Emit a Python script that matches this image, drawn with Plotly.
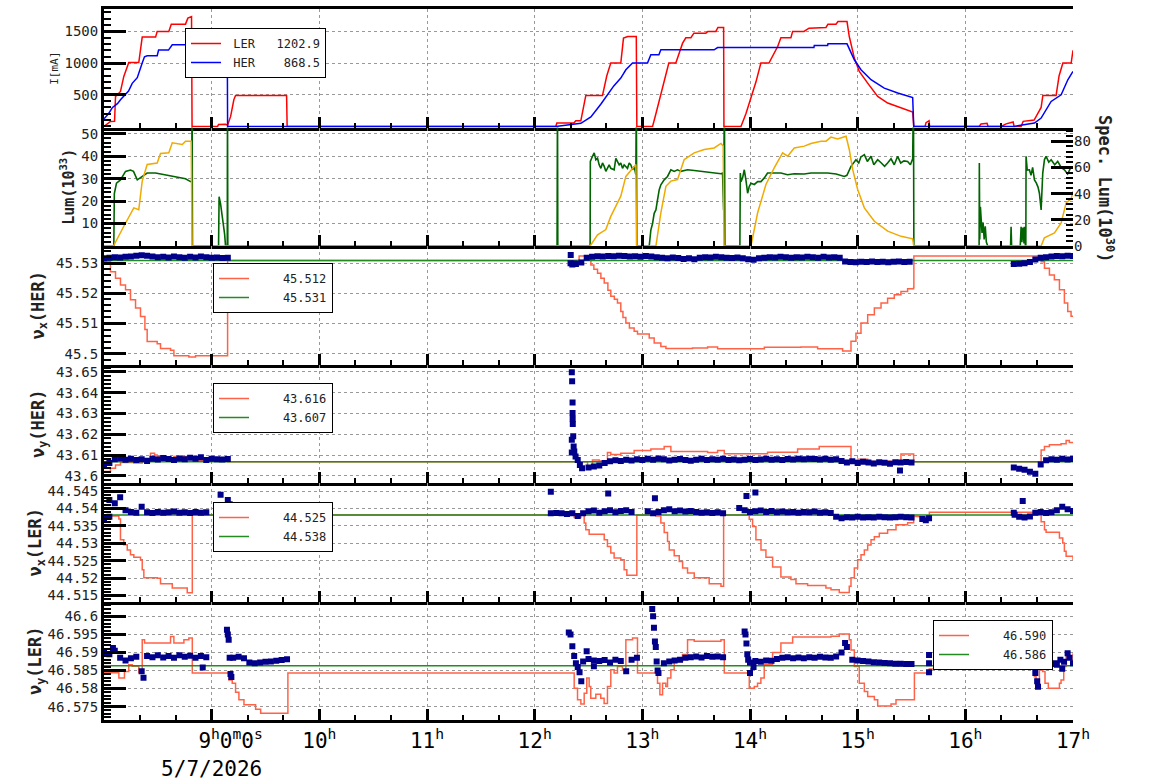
import pandas as pd
import plotly.graph_objects as go

BASE = pd.Timestamp("2026-05-07 00:00:00")
FONT = "DejaVu Sans Mono"

# ---------------- x axis ----------------
HOURS = [9, 10, 11, 12, 13, 14, 15, 16, 17]
HOUR_LABELS = ["\u00a0\u00a0\u00a09<sup>h</sup>0<sup>m</sup>0<sup>s</sup><br>5/7/2026", "10<sup>h</sup>",
               "11<sup>h</sup>", "12<sup>h</sup>", "13<sup>h</sup>", "14<sup>h</sup>", "15<sup>h</sup>",
               "16<sup>h</sup>", "17<sup>h</sup>"]

# ---------------- panel 1 : beam currents [mA] ----------------
LER_T = [8.000, 8.060, 8.098, 8.107, 8.125, 8.153, 8.184, 8.216, 8.230, 8.323, 8.339, 8.355, 8.479, 8.494,
         8.602, 8.625, 8.757, 8.779, 8.813, 8.818, 9.055, 9.064, 9.129, 9.148, 9.176, 9.206, 9.222, 9.696,
         9.701, 12.196, 12.206, 12.364, 12.382, 12.429, 12.475, 12.630, 12.670, 12.707, 12.800, 12.825,
         12.865, 12.944, 12.949, 13.095, 13.126, 13.172, 13.219, 13.246, 13.311, 13.374, 13.404, 13.451,
         13.479, 13.590, 13.609, 13.683, 13.702, 13.755, 13.758, 13.916, 13.962, 14.009, 14.055, 14.101,
         14.176, 14.257, 14.287, 14.380, 14.396, 14.501, 14.548, 14.706, 14.724, 14.799, 14.817, 14.901,
         14.922, 14.969, 15.015, 15.093, 15.186, 15.279, 15.403, 15.511, 15.521, 15.626, 15.635, 15.663,
         15.668, 16.128, 16.146, 16.202, 16.211, 16.332, 16.379, 16.444, 16.453, 16.518, 16.537, 16.639,
         16.704, 16.720, 16.843, 16.871, 16.906, 16.983, 17.000]
LER_I = [0, 79, 80, 473, 500, 552, 789, 946, 1009, 1009, 1262, 1410, 1410, 1500,
         1500, 1615, 1615, 1709, 1735, 0, 0, 30, 35, 20, 158, 421, 489, 489,
         0, 0, 53, 53, 90, 90, 489, 489, 800, 1000, 1000, 1394,
         1420, 1420, 0, 0, 200, 500, 850, 1000, 1000, 1315, 1400, 1400,
         1473, 1473, 1500, 1500, 1562, 1562, 0, 0, 200, 450, 700, 1000,
         1000, 1262, 1400, 1400, 1500, 1500, 1552, 1562, 1615, 1615, 1656, 1656,
         1420, 1079, 868, 684, 473, 369, 290, 227, 0, 0, 60, 90,
         0, 0, 40, 50, 0, 0, 40, 70, 0, 0, 80, 100,
         300, 489, 489, 800, 1000, 1000, 1202.9]

HER_T = [8.000, 8.042, 8.079, 8.125, 8.153, 8.200, 8.228, 8.262, 8.309, 8.355, 8.376, 8.401, 8.494, 8.507,
         8.599, 8.634, 8.757, 8.767, 9.145, 9.148, 12.196, 12.429, 12.522, 12.614, 12.677, 12.735, 12.800,
         12.847, 12.909, 13.048, 13.079, 13.154, 13.172, 13.667, 13.699, 14.594, 14.597, 14.721, 14.724,
         14.901, 14.969, 15.031, 15.124, 15.247, 15.372, 15.511, 15.521, 16.453, 16.642, 16.704, 16.797,
         16.890, 16.952, 17.000]
HER_I = [120, 200, 300, 360, 420, 500, 560, 680, 770, 1000, 1100, 1115, 1115, 1205,
         1205, 1290, 1290, 1315, 1315, 0, 0, 50, 150, 350, 500, 640, 763,
         895, 1000, 1000, 1131, 1131, 1210, 1210, 1246, 1246, 1278, 1278, 1304,
         1304, 1052, 895, 737, 605, 527, 457, 0, 0, 53, 132, 394,
         500, 737, 868.5]

# ---------------- panel 2 : luminosity ----------------
LUM_T = [8.000, 8.088, 8.184, 8.230, 8.277, 8.323, 8.355, 8.401, 8.494, 8.525, 8.602, 8.634, 8.727, 8.757,
         8.810, 8.818, 12.515, 12.584, 12.661, 12.707, 12.770, 12.800, 12.847, 12.909, 12.940, 12.946,
         13.126, 13.172, 13.219, 13.265, 13.327, 13.389, 13.482, 13.575, 13.667, 13.730, 13.751, 13.758,
         14.009, 14.071, 14.148, 14.225, 14.303, 14.350, 14.411, 14.504, 14.566, 14.659, 14.706, 14.752,
         14.814, 14.892, 14.922, 14.954, 15.000, 15.062, 15.155, 15.279, 15.403, 15.511, 15.521, 16.704,
         16.734, 16.828, 16.890, 16.936, 16.983, 17.000]
LUM_V = [0, 0, 8.8, 13.2, 17.0, 16.2, 28.9, 36.3, 37.0, 41.2, 41.5, 46.0, 45.2, 46.7,
         46.7, 0, 0, 5.0, 7.3, 13.2, 19.2, 22.2, 31.0, 34.8, 36.3, 0,
         0, 14.8, 26.6, 28.9, 29.6, 38.5, 41.5, 43.0, 43.7, 45.7, 44.5, 0,
         0, 14.8, 27.4, 34.8, 41.5, 40.0, 43.7, 44.5, 45.7, 46.7, 46.7, 48.5,
         47.7, 48.9, 43.0, 34.0, 25.2, 17.0, 11.0, 6.6, 4.3, 3.2, 0, 0,
         3.6, 5.8, 10.3, 19.2, 21.0, 24.4]

SPEC_T = [8.000, 8.091, 8.096, 8.116, 8.153, 8.200, 8.246, 8.274, 8.309, 8.339,
          8.401, 8.479, 8.556, 8.649, 8.757, 8.804, 8.815, 8.818, 8.822,
          9.064, 9.069, 9.083, 9.101, 9.120, 9.129, 9.145, 9.147, 9.150,
          12.208, 12.212, 12.215,
          12.515, 12.517, 12.537, 12.553, 12.568, 12.584, 12.599, 12.615, 12.630, 12.646,
          12.661, 12.676, 12.692, 12.707, 12.738, 12.754, 12.769, 12.785, 12.800, 12.816,
          12.831, 12.847, 12.862, 12.878, 12.893, 12.909, 12.924, 12.940, 12.944, 12.949,
          13.064, 13.079, 13.095, 13.110, 13.126, 13.141, 13.157, 13.172, 13.188, 13.203,
          13.234, 13.250, 13.265, 13.296, 13.327, 13.358, 13.420, 13.482, 13.544, 13.606,
          13.668, 13.730, 13.745, 13.755, 13.762, 13.767,
          13.906, 13.910, 13.916, 13.931, 13.947, 13.962, 13.978, 13.993, 14.009, 14.040,
          14.071, 14.102, 14.133, 14.163, 14.225, 14.287, 14.349, 14.411, 14.504, 14.566,
          14.659, 14.721, 14.800, 14.876, 14.900, 14.938, 14.984, 15.010, 15.030, 15.062,
          15.090, 15.124, 15.150, 15.186, 15.220, 15.250, 15.278, 15.310, 15.340, 15.371,
          15.400, 15.430, 15.464, 15.490, 15.511, 15.518, 15.522,
          16.128, 16.130, 16.134, 16.140, 16.146, 16.155, 16.165, 16.175, 16.185, 16.195, 16.208,
          16.420, 16.425, 16.430, 16.510, 16.518, 16.525, 16.535, 16.545, 16.549, 16.558, 16.562,
          16.564, 16.575, 16.595, 16.610, 16.625, 16.642, 16.660, 16.675, 16.688, 16.700,
          16.704, 16.719, 16.735, 16.750, 16.775, 16.797, 16.830, 16.858, 16.890, 16.920,
          16.950, 16.980, 17.000]
SPEC_V = [0, 0, 40, 48, 50.5, 57, 58, 57, 50.5, 52,
          55.7, 55.7, 54.4, 53, 51.3, 49.2, 49, 120, 0,
          0, 37.7, 32, 22, 9.3, 0, 0, 120, 0,
          0, 120, 0,
          0, 64.6, 68.5, 71.1, 65.9, 67.0, 62.0, 59.3, 63.4, 60.8,
          57.0, 59.3, 62.0, 59.3, 58.2, 67.0, 64.6, 62.0, 63.4, 59.3,
          62.0, 60.8, 59.3, 63.4, 62.0, 58.2, 60.8, 54.4, 120, 0,
          0, 12.1, 17.2, 25.0, 27.5, 35.2, 43.0, 46.7, 49.2, 50.5,
          53.1, 55.7, 58.2, 57.0, 58.2, 57.0, 58.2, 57.7, 57.0, 56.2,
          55.7, 55.2, 55.7, 27.5, 120, 0,
          0, 55.7, 49.2, 52.0, 58.2, 50.5, 40.3, 45.4, 48.0, 47.0,
          49.2, 49.2, 52.0, 55.7, 55.7, 55.7, 54.4, 55.2, 55.0, 55.7,
          55.7, 55.7, 55.0, 53.1, 54.0, 60.8, 65.9, 63.4, 68.0, 69.8,
          64.6, 68.5, 62.0, 65.9, 63.4, 60.8, 63.4, 66.6, 62.0, 68.5,
          63.4, 65.0, 64.6, 62.0, 66.6, 120, 0,
          0, 63.4, 5.0, 30.0, 22.0, 10.0, 18.0, 5.0, 15.0, 3.0, 0,
          0, 14.6, 0, 0, 14.6, 3.0, 14.0, 2.0, 14.6, 0, 0,
          68.5, 58.0, 58.2, 54.0, 60.0, 50.5, 48.0, 45.0, 40.3, 30.0,
          27.5, 55.7, 66.0, 68.5, 64.0, 65.9, 62.0, 64.6, 60.0, 58.2,
          55.0, 60.0, 59.5]

# ---------------- tunes: set values (step lines) ----------------
HX_T = [8.000, 8.005, 8.060, 8.107, 8.153, 8.200, 8.246, 8.293, 8.339, 8.380, 8.401, 8.494, 8.525, 8.618,
        8.649, 8.788, 8.850, 9.148, 12.413, 12.506, 12.522, 12.550, 12.584, 12.615, 12.646, 12.680, 12.707,
        12.740, 12.769, 12.800, 12.820, 12.847, 12.880, 12.924, 12.955, 13.064, 13.110, 13.172, 13.219,
        13.466, 13.606, 13.699, 14.133, 14.473, 14.628, 14.860, 14.938, 14.984, 15.031, 15.093, 15.155,
        15.217, 15.278, 15.340, 15.402, 15.464, 15.520, 15.522, 16.704, 16.735, 16.781, 16.827, 16.874,
        16.920, 16.951, 16.982, 17.000]
HX_V = [45.5310, 45.5305, 45.5272, 45.5250, 45.5228, 45.5212, 45.5179, 45.5151, 45.5123, 45.5080, 45.5040,
        45.5033, 45.5017, 45.5011, 45.4993, 45.4989, 45.4993, 45.5309, 45.5324, 45.5324, 45.5294, 45.5280,
        45.5267, 45.5250, 45.5234, 45.5210, 45.5190, 45.5180, 45.5168, 45.5140, 45.5120, 45.5102, 45.5085,
        45.5074, 45.5065, 45.5052, 45.5035, 45.5024, 45.5017, 45.5019, 45.5022, 45.5016, 45.5021, 45.5022,
        45.5016, 45.5009, 45.5041, 45.5068, 45.5102, 45.5129, 45.5151, 45.5168, 45.5184, 45.5195, 45.5206,
        45.5215, 45.5220, 45.5324, 45.5305, 45.5283, 45.5261, 45.5245, 45.5212, 45.5168, 45.5140, 45.5124,
        45.5124]

HY_T = [8.000, 8.060, 8.107, 8.153, 8.277, 8.355, 8.432, 8.470, 8.494, 8.525, 8.649, 8.835, 9.148, 12.491,
        12.537, 12.599, 12.676, 12.707, 12.800, 12.924, 13.079, 13.203, 13.265, 13.606, 13.699, 13.761,
        14.163, 14.442, 14.643, 14.938, 15.000, 15.093, 15.278, 15.402, 15.520, 16.704, 16.735, 16.781,
        16.889, 16.936, 16.966, 17.000]
HY_V = [43.6021, 43.6037, 43.6053, 43.6064, 43.6062, 43.6085, 43.6109, 43.6100, 43.6093, 43.6080, 43.6093,
        43.6074, 43.6068, 43.6037, 43.6077, 43.6072, 43.6112, 43.6103, 43.6109, 43.6122, 43.6129, 43.6141,
        43.6117, 43.6112, 43.6122, 43.6106, 43.6114, 43.6129, 43.6141, 43.6077, 43.6080, 43.6069, 43.6071,
        43.6105, 43.6068, 43.6125, 43.6141, 43.6150, 43.6155, 43.6170, 43.6160, 43.6162]

LX_T = [8.000, 8.138, 8.153, 8.184, 8.216, 8.246, 8.277, 8.339, 8.355, 8.370, 8.494, 8.525, 8.634, 8.773,
        8.820, 9.083, 9.160, 9.176, 9.206, 9.424, 9.708, 12.367, 12.429, 12.460, 12.475, 12.506, 12.646,
        12.676, 12.707, 12.738, 12.800, 12.831, 12.856, 12.949, 13.126, 13.172, 13.203, 13.234, 13.250,
        13.296, 13.343, 13.374, 13.420, 13.482, 13.621, 13.730, 13.755, 13.993, 14.024, 14.055, 14.102,
        14.148, 14.210, 14.287, 14.380, 14.427, 14.535, 14.705, 14.752, 14.829, 14.922, 14.938, 14.969,
        15.000, 15.031, 15.062, 15.093, 15.124, 15.155, 15.201, 15.278, 15.356, 15.464, 15.520, 15.666,
        16.704, 16.735, 16.750, 16.874, 16.905, 16.920, 16.936, 17.000]
LX_V = [44.5378, 44.5370, 44.5310, 44.5296, 44.5281, 44.5267, 44.5260, 44.5253, 44.5224, 44.5201, 44.5200,
        44.5184, 44.5172, 44.5158, 44.5381, 44.5386, 44.5367, 44.5343, 44.5327, 44.5320, 44.5381, 44.5374,
        44.5381, 44.5358, 44.5339, 44.5326, 44.5310, 44.5291, 44.5272, 44.5258, 44.5253, 44.5224, 44.5208,
        44.5381, 44.5378, 44.5358, 44.5331, 44.5305, 44.5281, 44.5264, 44.5248, 44.5229, 44.5215, 44.5201,
        44.5184, 44.5177, 44.5381, 44.5369, 44.5348, 44.5310, 44.5281, 44.5260, 44.5232, 44.5203, 44.5196,
        44.5184, 44.5179, 44.5172, 44.5167, 44.5159, 44.5177, 44.5201, 44.5229, 44.5253, 44.5267, 44.5281,
        44.5295, 44.5310, 44.5319, 44.5329, 44.5339, 44.5353, 44.5359, 44.5377, 44.5389, 44.5362, 44.5339,
        44.5332, 44.5315, 44.5301, 44.5277, 44.5263, 44.5252]

LY_T = [8.000, 8.138, 8.190, 8.230, 8.262, 8.323, 8.355, 8.377, 8.618, 8.649, 8.742, 8.788, 8.820, 9.160,
        9.191, 9.222, 9.253, 9.300, 9.408, 9.455, 9.708, 12.367, 12.398, 12.429, 12.460, 12.484, 12.506,
        12.521, 12.568, 12.614, 12.645, 12.676, 12.707, 12.738, 12.769, 12.816, 12.847, 12.909, 12.955,
        13.141, 13.163, 13.188, 13.218, 13.234, 13.265, 13.296, 13.373, 13.420, 13.482, 13.575, 13.730,
        13.761, 13.993, 14.040, 14.070, 14.101, 14.132, 14.210, 14.287, 14.396, 14.752, 14.829, 14.922,
        14.938, 14.969, 15.015, 15.062, 15.093, 15.155, 15.186, 15.310, 15.356, 15.527, 15.665, 16.641,
        16.657, 16.678, 16.688, 16.719, 16.740, 16.771, 16.874, 16.889, 16.914, 16.936, 16.982, 17.000]
LY_V = [46.5844, 46.5829, 46.5847, 46.5866, 46.5862, 46.5844, 46.5935, 46.5926, 46.5944, 46.5926, 46.5935,
        46.5940, 46.5843, 46.5824, 46.5815, 46.5790, 46.5769, 46.5755, 46.5743, 46.5732, 46.5843, 46.5801,
        46.5769, 46.5757, 46.5787, 46.5829, 46.5806, 46.5773, 46.5784, 46.5773, 46.5759, 46.5806, 46.5852,
        46.5843, 46.5861, 46.5852, 46.5935, 46.5940, 46.5843, 46.5815, 46.5783, 46.5815, 46.5806, 46.5829,
        46.5852, 46.5875, 46.5894, 46.5935, 46.5931, 46.5931, 46.5935, 46.5843, 46.5801, 46.5806, 46.5815,
        46.5829, 46.5866, 46.5900, 46.5926, 46.5943, 46.5945, 46.5951, 46.5935, 46.5907, 46.5861, 46.5815,
        46.5792, 46.5778, 46.5769, 46.5752, 46.5757, 46.5769, 46.5843, 46.5854, 46.5833, 46.5810, 46.5801,
        46.5852, 46.5847, 46.5815, 46.5801, 46.5815, 46.5824, 46.5861, 46.5890, 46.5879, 46.5898]

# reference (design) tunes
HX_REF = 45.5309
HY_REF = 43.6068
LX_REF = 44.5381
LY_REF = 46.5863

# ---------------- tunes: measured (3-minute samples + isolated readings) ----------------
HXM_A_START, HXM_A = 8.0, [45.5316, 45.5318, 45.5320, 45.5319, 45.5321, 45.5322, 45.5325, 45.5326, 45.5325,
                           45.5322, 45.5320, 45.5321, 45.5319, 45.5322, 45.5320, 45.5318, 45.5321, 45.5319,
                           45.5322, 45.5320, 45.5318, 45.5319, 45.5317, 45.5318]
HXM_B_START, HXM_B = 12.3333, [45.5300, 45.5297, 45.5302, 45.5318, 45.5321, 45.5323, 45.5322, 45.5324, 45.5323,
                               45.5325, 45.5324, 45.5322, 45.5323, 45.5321, 45.5324, 45.5322, 45.5320, 45.5318,
                               45.5316, 45.5319, 45.5317, 45.5314, 45.5316, 45.5313, 45.5318, 45.5320, 45.5319,
                               45.5321, 45.5320, 45.5318, 45.5317, 45.5319, 45.5316, 45.5313, 45.5311, 45.5316,
                               45.5318, 45.5320, 45.5319, 45.5321, 45.5320, 45.5318, 45.5320, 45.5319, 45.5321,
                               45.5320, 45.5318, 45.5321, 45.5319, 45.5320, 45.5318, 45.5306, 45.5304, 45.5303,
                               45.5305, 45.5304, 45.5306, 45.5304, 45.5305, 45.5303, 45.5305, 45.5306, 45.5304,
                               45.5305]
HXM_C_START, HXM_C = 16.45, [45.5297, 45.5298, 45.5300, 45.5304, 45.5312, 45.5318, 45.5320, 45.5322, 45.5324,
                             45.5323, 45.5325, 45.5324]
HXM_XT = [12.335, 12.350, 12.370]
HXM_XV = [45.5327, 45.5296, 45.5299]

HYM_A_START, HYM_A = 8.0, [43.6055, 43.6062, 43.6080, 43.6085, 43.6078, 43.6082, 43.6076, 43.6080, 43.6072,
                           43.6083, 43.6079, 43.6086, 43.6081, 43.6077, 43.6084, 43.6080, 43.6087, 43.6082,
                           43.6090, 43.6076, 43.6083, 43.6080, 43.6079, 43.6081]
HYM_B_START, HYM_B = 12.5, [43.6040, 43.6045, 43.6050, 43.6062, 43.6070, 43.6075, 43.6072, 43.6078, 43.6074,
                            43.6080, 43.6076, 43.6082, 43.6078, 43.6084, 43.6080, 43.6074, 43.6078, 43.6081,
                            43.6077, 43.6073, 43.6078, 43.6082, 43.6076, 43.6080, 43.6078, 43.6083, 43.6077,
                            43.6079, 43.6075, 43.6078, 43.6081, 43.6076, 43.6079, 43.6082, 43.6078, 43.6080,
                            43.6077, 43.6081, 43.6079, 43.6082, 43.6080, 43.6083, 43.6081, 43.6079, 43.6082,
                            43.6078, 43.6080, 43.6072, 43.6065, 43.6070, 43.6062, 43.6068, 43.6064, 43.6060,
                            43.6066, 43.6063, 43.6058, 43.6066, 43.6064, 43.6067, 43.6065]
HYM_C_START, HYM_C = 16.45, [43.6040, 43.6035, 43.6030, 43.6020, 43.6010, 43.6055, 43.6075, 43.6080, 43.6078,
                             43.6082, 43.6079, 43.6081]
HYM_XT = [12.345, 12.348, 12.352, 12.352, 12.353, 12.354, 12.358, 12.345, 12.345, 12.362, 12.368, 12.380,
          12.400, 12.420, 12.440, 15.393]
HYM_XV = [43.6498, 43.6455, 43.6353, 43.6302, 43.6275, 43.6249, 43.6190, 43.6174, 43.6112, 43.6141, 43.6117,
          43.6093, 43.6077, 43.6053, 43.6037, 43.6026]

LXM_A_START, LXM_A = 8.0, [44.5372, 44.5376, 44.5415, 44.5432, 44.5395, 44.5390, 44.5388, 44.5405, 44.5389,
                           44.5387, 44.5390, 44.5388, 44.5389, 44.5391, 44.5388, 44.5389, 44.5387, 44.5390,
                           44.5388, 44.5389]
LXM_A2_START, LXM_A2 = 9.1, [44.5405, 44.5392, 44.5387, 44.5386, 44.5385, 44.5386, 44.5384, 44.5386, 44.5385,
                             44.5386, 44.5385, 44.5386, 44.5385]
LXM_B1_START, LXM_B1 = 12.15, [44.5386, 44.5387, 44.5386, 44.5384, 44.5386]
LXM_B2_START, LXM_B2 = 12.4, [44.5378, 44.5386, 44.5392, 44.5394, 44.5388, 44.5392, 44.5395, 44.5389, 44.5393,
                              44.5395, 44.5390]
LXM_B3_START, LXM_B3 = 13.05, [44.5392, 44.5386, 44.5390, 44.5395, 44.5398, 44.5392, 44.5394, 44.5391, 44.5393,
                               44.5390, 44.5388, 44.5389, 44.5387, 44.5389, 44.5386]
LXM_B4_START, LXM_B4 = 13.9, [44.5401, 44.5395, 44.5390, 44.5392, 44.5394, 44.5390, 44.5393, 44.5389, 44.5391,
                              44.5389, 44.5390, 44.5388, 44.5390, 44.5389, 44.5391, 44.5388, 44.5389, 44.5387,
                              44.5376, 44.5372, 44.5375, 44.5374, 44.5376, 44.5374, 44.5375, 44.5374, 44.5376,
                              44.5375, 44.5374, 44.5375, 44.5376, 44.5375, 44.5374]
LXM_C_START, LXM_C = 16.5, [44.5376, 44.5374, 44.5377, 44.5388, 44.5390, 44.5387, 44.5389, 44.5395, 44.5405,
                            44.5398, 44.5393]
LXM_XT = [8.050, 9.083, 9.150, 9.167, 12.150, 12.683, 13.117, 13.967, 14.050, 15.600, 15.633, 15.663, 16.450,
          16.458, 16.533]
LXM_XV = [44.5424, 44.5439, 44.5424, 44.5412, 44.5448, 44.5443, 44.5429, 44.5436, 44.5446, 44.5370, 44.5366,
          44.5372, 44.5388, 44.5382, 44.5421]

LYM_A_START, LYM_A = 8.0, [46.5900, 46.5895, 46.5905, 46.5885, 46.5878, 46.5884, 46.5888, 46.5848, 46.5890,
                           46.5887, 46.5892, 46.5886, 46.5890, 46.5885, 46.5892, 46.5888, 46.5891, 46.5885,
                           46.5890, 46.5887]
LYM_A2_START, LYM_A2 = 9.2, [46.5885, 46.5888, 46.5884, 46.5872, 46.5870, 46.5872, 46.5874, 46.5875, 46.5877,
                             46.5879, 46.5881]
LYM_B1_START, LYM_B1 = 12.45, [46.5875, 46.5882, 46.5878, 46.5876, 46.5879, 46.5872, 46.5880, 46.5876, 46.5848,
                               46.5880, 46.5885]
LYM_B2_START, LYM_B2 = 13.2, [46.5870, 46.5875, 46.5878, 46.5880, 46.5885, 46.5887, 46.5889, 46.5886, 46.5890,
                              46.5888, 46.5889, 46.5887]
LYM_B3_START, LYM_B3 = 14.0, [46.5872, 46.5876, 46.5874, 46.5878, 46.5877, 46.5882, 46.5885, 46.5887, 46.5884,
                              46.5886, 46.5884, 46.5887, 46.5885, 46.5888, 46.5886, 46.5885, 46.5889, 46.5900,
                              46.5915, 46.5880, 46.5878, 46.5876, 46.5875, 46.5873, 46.5872, 46.5871, 46.5870,
                              46.5869, 46.5869, 46.5868, 46.5868]
LYM_XT = [8.083, 8.367, 8.917, 9.142, 9.150, 9.158, 9.167, 9.175, 9.183, 12.317, 12.333, 12.350, 12.367, 12.383,
          12.400, 12.417, 12.433, 12.483, 12.550, 13.092, 13.100, 13.108, 13.117, 13.125, 13.133, 13.142, 13.150,
          13.950, 13.958, 13.967, 13.975, 13.983, 14.000, 14.033, 14.883, 15.663, 15.663, 15.663, 16.450, 16.533,
          16.567, 16.600, 16.617, 16.633, 16.650, 16.667, 16.675, 16.700, 16.717, 16.750, 16.767, 16.800, 16.833,
          16.850, 16.883, 16.900, 16.917, 16.950, 16.967, 17.000]
LYM_XV = [46.5912, 46.5830, 46.5858, 46.5963, 46.5950, 46.5935, 46.5885, 46.5840, 46.5832, 46.5955, 46.5950,
          46.5917, 46.5890, 46.5870, 46.5860, 46.5845, 46.5820, 46.5903, 46.5862, 46.6020, 46.6000, 46.5968,
          46.5930, 46.5915, 46.5875, 46.5850, 46.5843, 46.5958, 46.5950, 46.5925, 46.5895, 46.5880, 46.5843,
          46.5860, 46.5926, 46.5893, 46.5870, 46.5845, 46.5921, 46.5924, 46.5920, 46.5918, 46.5915, 46.5868,
          46.5843, 46.5820, 46.5805, 46.5879, 46.5889, 46.5891, 46.5887, 46.5868, 46.5870, 46.5866, 46.5880,
          46.5855, 46.5874, 46.5898, 46.5885, 46.5870]


# ---------------- helpers ----------------
def T(hours):
    return [BASE + pd.Timedelta(hours=float(h)) for h in hours]


def sampled(bands, extra_t, extra_v, step_min=3.0):
    xs, ys = [], []
    for start, vals in bands:
        xs += [start + i * step_min / 60.0 for i in range(len(vals))]
        ys += list(vals)
    xs += list(extra_t)
    ys += list(extra_v)
    return T(xs), ys


RED = "#FF0000"
BLUE = "#0000FF"
ORANGE = "#F0AA00"
DGREEN = "#006400"
TOMATO = "#FF6347"
GREEN = "#228B22"
NAVY = "#00008B"

fig = go.Figure()

# panel 1
fig.add_trace(go.Scatter(x=T(LER_T), y=LER_I, mode="lines", line=dict(color=RED, width=1.5),
                         name="\u00a0LER\u00a0\u00a0\u00a0%.1f" % LER_I[-1], legend="legend",
                         xaxis="x", yaxis="y"))
fig.add_trace(go.Scatter(x=T(HER_T), y=HER_I, mode="lines", line=dict(color=BLUE, width=1.5),
                         name="\u00a0HER\u00a0\u00a0\u00a0\u00a0%.1f" % HER_I[-1], legend="legend",
                         xaxis="x", yaxis="y"))

# panel 2 (y2 = specific luminosity, right; y7 = luminosity, left, overlay)
fig.add_trace(go.Scatter(x=T(SPEC_T), y=SPEC_V, mode="lines", line=dict(color=DGREEN, width=1.6),
                         showlegend=False, xaxis="x2", yaxis="y2"))
fig.add_trace(go.Scatter(x=T(LUM_T), y=LUM_V, mode="lines", line=dict(color=ORANGE, width=1.5),
                         showlegend=False, xaxis="x2", yaxis="y7"))

tune_panels = [
    (3, HX_T, HX_V, HX_REF, [(HXM_A_START, HXM_A), (HXM_B_START, HXM_B), (HXM_C_START, HXM_C)],
     HXM_XT, HXM_XV, "legend2"),
    (4, HY_T, HY_V, HY_REF, [(HYM_A_START, HYM_A), (HYM_B_START, HYM_B), (HYM_C_START, HYM_C)],
     HYM_XT, HYM_XV, "legend3"),
    (5, LX_T, LX_V, LX_REF, [(LXM_A_START, LXM_A), (LXM_A2_START, LXM_A2), (LXM_B1_START, LXM_B1),
                             (LXM_B2_START, LXM_B2), (LXM_B3_START, LXM_B3), (LXM_B4_START, LXM_B4),
                             (LXM_C_START, LXM_C)], LXM_XT, LXM_XV, "legend4"),
    (6, LY_T, LY_V, LY_REF, [(LYM_A_START, LYM_A), (LYM_A2_START, LYM_A2), (LYM_B1_START, LYM_B1),
                             (LYM_B2_START, LYM_B2), (LYM_B3_START, LYM_B3)], LYM_XT, LYM_XV, "legend5"),
]
PAD = "\u00a0" * 4
for k, rt, rv, ref, bands, ext, exv, leg in tune_panels:
    xa, ya = "x%d" % k, "y%d" % k
    fig.add_trace(go.Scatter(x=T(rt), y=rv, mode="lines", line=dict(color=TOMATO, width=1.5, shape="hv"),
                             name=PAD + "%.3f" % rv[-1], legend=leg, xaxis=xa, yaxis=ya))
    fig.add_trace(go.Scatter(x=T([8.0, 17.0]), y=[ref, ref], mode="lines", line=dict(color=GREEN, width=1.5),
                             name=PAD + "%.3f" % ref, legend=leg, xaxis=xa, yaxis=ya))
    mx, my = sampled(bands, ext, exv)
    fig.add_trace(go.Scatter(x=mx, y=my, mode="markers",
                             marker=dict(symbol="square", size=6, color=NAVY, line=dict(width=0)),
                             showlegend=False, xaxis=xa, yaxis=ya))

# ---------------- layout ----------------
Hh = 1.0 / 6
DOM = {1: [5 * Hh, 1.0], 2: [4 * Hh, 5 * Hh], 3: [3 * Hh, 4 * Hh], 4: [2 * Hh, 3 * Hh], 5: [Hh, 2 * Hh],
       6: [0.0, Hh]}
XR = [BASE + pd.Timedelta(hours=8), BASE + pd.Timedelta(hours=17)]
GRID = dict(showgrid=True, gridcolor="#999999", griddash="dot", gridwidth=1)
TICKFONT = dict(family=FONT, size=14, color="#222222")

layout = dict(width=1154, height=782, margin=dict(l=104, r=81, t=9, b=62, autoexpand=False),
              paper_bgcolor="white", plot_bgcolor="white", font=dict(family=FONT, color="#222222"),
              showlegend=True)

for k in range(1, 7):
    key = "xaxis" if k == 1 else "xaxis%d" % k
    ax = dict(type="date", range=XR, domain=[0, 1], anchor="y" if k == 1 else "y%d" % k,
              showline=True, linecolor="black", linewidth=3, mirror=(k == 1),
              ticks="inside", ticklen=11, tickwidth=3, tickcolor="black",
              tickmode="array", tickvals=T(HOURS), ticktext=HOUR_LABELS, showticklabels=(k == 6),
              tickfont=dict(family=FONT, size=21, color="black"), zeroline=False,
              minor=dict(ticks="inside", ticklen=5, tickwidth=2, tickcolor="black", dtick=20 * 60 * 1000,
                         tick0=XR[0], showgrid=False), **GRID)
    if k > 1:
        ax["matches"] = "x"
    layout[key] = ax


def yax(k, rng, tv, tt, mdt, title, tsize, weight, standoff, side="left", grid=True, line=True, anchor=None,
        overlay=None):
    d = dict(domain=DOM[k], range=rng, tickmode="array", tickvals=tv, ticktext=tt, side=side,
             ticks="inside", ticklen=22, tickwidth=3, tickcolor="black", tickfont=TICKFONT,
             showline=line, linecolor="black", linewidth=3, zeroline=False,
             minor=dict(ticks="inside", ticklen=7, tickwidth=2, tickcolor="black", dtick=mdt, tick0=tv[0],
                        showgrid=False),
             anchor=anchor or ("x" if k == 1 else "x%d" % k))
    if title:
        d["title"] = dict(text=title, font=dict(family=FONT, size=tsize, color="#222222", weight=weight),
                          standoff=standoff)
    if grid:
        d.update(GRID)
    else:
        d["showgrid"] = False
    if overlay:
        d["overlaying"] = overlay
    return d


layout["yaxis"] = yax(1, [-17, 1854], [500, 1000, 1500], ["500", "1000", "1500"], 100, "I[mA]", 11, 400, 4)
layout["yaxis2"] = yax(2, [0, 90.5], [0, 20, 40, 60, 80], ["0", "20", "40", "60", "80"], 4,
                       None, 15, 700, 6, side="right", grid=False, line=False)
layout["yaxis7"] = yax(2, [0, 52.8], [10, 20, 30, 40, 50], ["10", "20", "30", "40", "50"], 2,
                       "Lum(10<sup>33</sup>)", 15, 700, 4, anchor="x2", overlay="y2")
layout["yaxis3"] = yax(3, [45.4964, 45.5357], [45.50, 45.51, 45.52, 45.53], ["45.5", "45.51", "45.52", "45.53"],
                       0.002, "\u03bd<sub>x</sub>(HER)", 17, 700, 8)
layout["yaxis4"] = yax(4, [43.5966, 43.6535], [43.60, 43.61, 43.62, 43.63, 43.64, 43.65],
                       ["43.6", "43.61", "43.62", "43.63", "43.64", "43.65"], 0.002,
                       "\u03bd<sub>y</sub>(HER)", 17, 700, 8)
layout["yaxis5"] = yax(5, [44.5133, 44.5473], [44.515, 44.520, 44.525, 44.530, 44.535, 44.540, 44.545],
                       ["44.515", "44.52", "44.525", "44.53", "44.535", "44.54", "44.545"], 0.001,
                       "\u03bd<sub>x</sub>(LER)", 17, 700, 2)
layout["yaxis6"] = yax(6, [46.5713, 46.6041], [46.575, 46.580, 46.585, 46.590, 46.595, 46.600],
                       ["46.575", "46.58", "46.585", "46.59", "46.595", "46.6"], 0.001,
                       "\u03bd<sub>y</sub>(LER)", 17, 700, 2)

# right-hand title of the luminosity panel, reading top to bottom
layout["annotations"] = [dict(text="Spec. Lum(10<sup>30</sup>)", xref="paper", yref="paper",
                              x=(1106 - 104) / 969, y=(720 - 188) / 711, xanchor="center", yanchor="middle",
                              textangle=90, showarrow=False,
                              font=dict(family=FONT, size=17, color="#222222", weight=700))]

LEG = dict(bgcolor="white", bordercolor="black", borderwidth=1, xanchor="left", yanchor="top",
           font=dict(family=FONT, size=12, color="#222222"), tracegroupgap=0, itemclick=False)
layout["legend"] = dict(LEG, x=(185 - 104) / 969, y=(720 - 28) / 711)
layout["legend2"] = dict(LEG, x=(213 - 104) / 969, y=(720 - 263) / 711)
layout["legend3"] = dict(LEG, x=(213 - 104) / 969, y=(720 - 383) / 711)
layout["legend4"] = dict(LEG, x=(213 - 104) / 969, y=(720 - 502) / 711)
layout["legend5"] = dict(LEG, x=(933 - 104) / 969, y=(720 - 620) / 711)

fig.update_layout(**layout)
fig.write_html("out.html")
